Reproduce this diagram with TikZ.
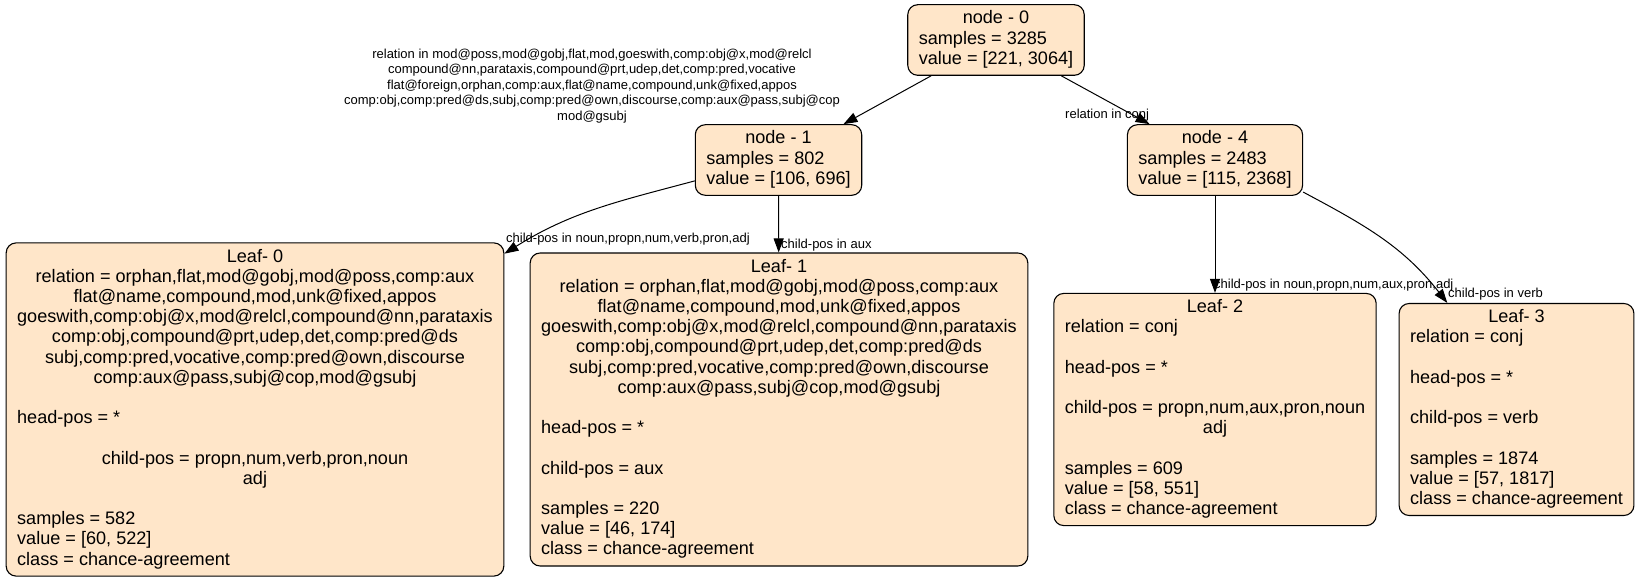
\documentclass[tikz,border=0pt]{standalone}
\usepackage{fontspec}
\setmainfont{Liberation Sans}
\usetikzlibrary{arrows.meta}
\definecolor{nodefill}{RGB}{255,230,201}
\newcommand{\ctr}[1]{\multicolumn{1}{@{}c@{}}{#1}}
\tikzset{
    treenode/.style={draw, line width=1.1pt, rounded corners=10pt, fill=nodefill,
        inner xsep=11pt, inner ysep=5pt, font=\fontsize{18.1}{20.2}\selectfont},
    edgelabel/.style={inner sep=0pt, align=center, font=\fontsize{13}{15.4}\selectfont},
    branch/.style={line width=1pt, -{Triangle[length=14pt,width=10pt]}}
}
\begin{document}
\begin{tikzpicture}[x=1pt,y=1pt]
            \useasboundingbox (0,0) rectangle (1641,-583);

            % split nodes
            \foreach \id/\x/\y/\s/\v in {0/996/-40/3285/{[221, 3064]},
                                         1/778.5/-160/802/{[106, 696]},
                                         4/1215/-160/2483/{[115, 2368]}} {
                \node[treenode] (n\id) at (\x,\y) {\begin{tabular}{@{}l@{}}
                    \ctr{node - \id}\\ samples = \s\\ value = \v
                \end{tabular}};
            }

            % leaves
            \node[treenode] (l0) at (255,-409.5) {\begin{tabular}{@{}l@{}}
                \ctr{Leaf- 0}\\
                \ctr{relation = orphan,flat,mod@gobj,mod@poss,comp:aux}\\
                \ctr{flat@name,compound,mod,unk@fixed,appos}\\
                \ctr{goeswith,comp:obj@x,mod@relcl,compound@nn,parataxis}\\
                \ctr{comp:obj,compound@prt,udep,det,comp:pred@ds}\\
                \ctr{subj,comp:pred,vocative,comp:pred@own,discourse}\\
                \ctr{comp:aux@pass,subj@cop,mod@gsubj}\\
                \\
                head-pos = *\\
                \\
                \ctr{child-pos = propn,num,verb,pron,noun}\\
                \ctr{adj}\\
                \\
                samples = 582\\
                value = [60, 522]\\
                class = chance-agreement
            \end{tabular}};
            \node[treenode] (l1) at (779,-409.5) {\begin{tabular}{@{}l@{}}
                \ctr{Leaf- 1}\\
                \ctr{relation = orphan,flat,mod@gobj,mod@poss,comp:aux}\\
                \ctr{flat@name,compound,mod,unk@fixed,appos}\\
                \ctr{goeswith,comp:obj@x,mod@relcl,compound@nn,parataxis}\\
                \ctr{comp:obj,compound@prt,udep,det,comp:pred@ds}\\
                \ctr{subj,comp:pred,vocative,comp:pred@own,discourse}\\
                \ctr{comp:aux@pass,subj@cop,mod@gsubj}\\
                \\
                head-pos = *\\
                \\
                child-pos = aux\\
                \\
                samples = 220\\
                value = [46, 174]\\
                class = chance-agreement
            \end{tabular}};
            \node[treenode] (l2) at (1215,-409.5) {\begin{tabular}{@{}l@{}}
                \ctr{Leaf- 2}\\
                relation = conj\\
                \\
                head-pos = *\\
                \\
                child-pos = propn,num,aux,pron,noun\\
                \ctr{adj}\\
                \\
                samples = 609\\
                value = [58, 551]\\
                class = chance-agreement
            \end{tabular}};
            \node[treenode] (l3) at (1516.5,-409.5) {\begin{tabular}{@{}l@{}}
                \ctr{Leaf- 3}\\
                relation = conj\\
                \\
                head-pos = *\\
                \\
                child-pos = verb\\
                \\
                samples = 1874\\
                value = [57, 1817]\\
                class = chance-agreement
            \end{tabular}};

            % branches
            \draw[branch] (n0) -- (n1);
            \draw[branch] (n0) -- (n4);
            \draw[branch] (n1) -- (l1);
            \draw[branch] (n4) -- (l2);
            \draw[branch] (n1.194) to[out=195,in=32] (l0.32.7);
            \draw[branch] (n4.340) to[out=-28,in=128] (l3.123);

            % branch labels
            \node[edgelabel] (t01) at (592,-86) {relation in mod@poss,mod@gobj,flat,mod,goeswith,comp:obj@x,mod@relcl\\
                compound@nn,parataxis,compound@prt,udep,det,comp:pred,vocative\\
                flat@foreign,orphan,comp:aux,flat@name,compound,unk@fixed,appos\\
                comp:obj,comp:pred@ds,subj,comp:pred@own,discourse,comp:aux@pass,subj@cop\\
                mod@gsubj};
            \node[edgelabel, anchor=west] (t04) at (1065,-115) {relation in conj};
            \node[edgelabel, anchor=west] (t10) at (506,-239.5) {child-pos in noun,propn,num,verb,pron,adj};
            \node[edgelabel, anchor=west] (t11) at (781,-245) {child-pos in aux};
            \node[edgelabel, anchor=west] (t42) at (1214,-285) {child-pos in noun,propn,num,aux,pron,adj};
            \node[edgelabel, anchor=west] (t43) at (1448,-294) {child-pos in verb};
        \end{tikzpicture}
\end{document}
